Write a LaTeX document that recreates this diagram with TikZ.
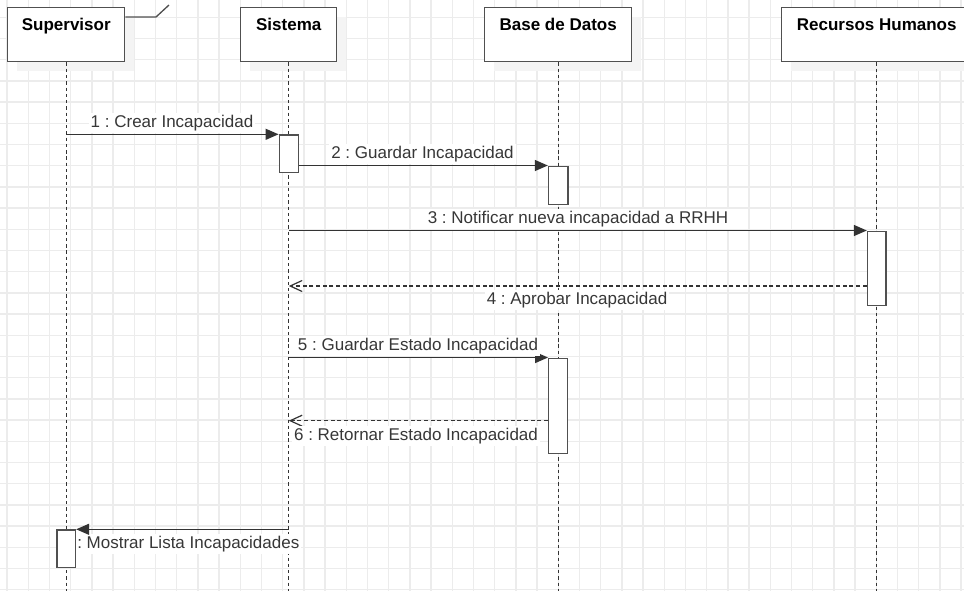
\documentclass[tikz,border=0pt]{standalone}
\usepackage{fontspec}
\setmainfont{Liberation Sans}
\usetikzlibrary{arrows.meta}
\definecolor{gridc}{RGB}{236,236,236}
\definecolor{linec}{RGB}{51,51,51}
\definecolor{boxc}{RGB}{80,80,80}
\definecolor{txtc}{RGB}{55,55,55}
\definecolor{shadowc}{RGB}{244,244,244}
\frenchspacing
\begin{document}
\begin{tikzpicture}[x=0.75pt,y=-0.75pt,
  font=\fontsize{12.75}{15}\selectfont,
  gridline/.style={draw=gridc, line width=1.1pt},
  headbox/.style={draw=boxc, fill=white, line width=1.1pt, inner sep=0pt,
    minimum height=54*0.75pt, anchor=north west},
  headtext/.style={anchor=base, inner sep=0pt, font=\fontsize{12.75}{15}\selectfont\bfseries, text=black},
  lifeline/.style={draw=linec, line width=0.9pt, dash pattern=on 2.5pt off 2.2pt},
  actbox/.style={draw=boxc, fill=white, line width=1pt, inner sep=0pt, anchor=north},
  msg/.style={draw=linec, line width=1pt, -{Triangle[length=9.75pt,width=8.25pt]}},
  reply/.style={draw=linec, line width=0.9pt, dash pattern=on 3pt off 2pt,
    -{Straight Barb[length=9pt,width=8.25pt,line width=0.9pt]}},
  msglabel/.style={anchor=base, fill=white, inner xsep=1.5pt, inner ysep=1.5pt, text=txtc},
]
\useasboundingbox (0,0) rectangle (964,590);

% background grid
\foreach \i in {0,...,45}
  \draw[gridline] ({7.1+21.2*\i},-2) -- ({7.1+21.2*\i},592);
\foreach \j in {0,...,28}
  \draw[gridline] (-2,{-3.9+21.2*\j}) -- (966,{-3.9+21.2*\j});

% soft shadows behind the participant boxes
\fill[shadowc] (17,17) rectangle (134,71);
\fill[shadowc] (250,17) rectangle (346,71);
\fill[shadowc] (494,17) rectangle (641,71);
\fill[shadowc] (791,17) rectangle (981,71);

% participants
\node[headbox, minimum width=117*0.75pt] (sup) at (7,7) {};
\node[headbox, minimum width=96*0.75pt]  (sis) at (240,7) {};
\node[headbox, minimum width=147*0.75pt] (bd)  at (484,7) {};
\node[headbox, minimum width=190*0.75pt] (rh)  at (781,7) {};

\node[headtext] (suptxt) at (sup.north |- 0,30) {Supervisor};
\node[headtext] (sistxt) at (sis.north |- 0,30) {Sistema};
\node[headtext] (bdtxt)  at (bd.north |- 0,30)  {Base de Datos};
\node[headtext] (rhtxt)  at (rh.north |- 0,30)  {Recursos Humanos};

% frame label corner
\draw[draw=boxc, line width=1pt] (sup.north east |- 0,17) -- (156,17) -- (169,5);

% lifelines
\coordinate (bottom) at (0,592);
\draw[lifeline] (sup.south) -- (sup.south |- bottom);
\draw[lifeline] (sis.south) -- (sis.south |- bottom);
\draw[lifeline] (bd.south)  -- (bd.south |- bottom);
\draw[lifeline] (rh.south)  -- (rh.south |- bottom);

% activation bars
\node[actbox, minimum width=19*0.75pt, minimum height=37.5*0.75pt] (a1) at (sis.south |- 0,134.3) {};
\node[actbox, minimum width=19.5*0.75pt, minimum height=38*0.75pt] (b1) at (bd.south |- 0,165.5) {};
\node[actbox, minimum width=18.5*0.75pt, minimum height=74*0.75pt] (r1) at (rh.south |- 0,230.5) {};
\node[actbox, minimum width=19*0.75pt, minimum height=95.5*0.75pt] (b2) at (bd.south |- 0,357.5) {};
\node[actbox, minimum width=18.5*0.75pt, minimum height=37.5*0.75pt] (s1) at (sup.south |- 0,529.3) {};

% message rows
\coordinate (y4) at (0,286);
\coordinate (y6) at (0,420.7);

% messages
\draw[msg] (sup.south |- a1.north west) -- (a1.north west);
\draw[msg] (a1.east |- b1.north west) -- (b1.north west);
\draw[msg] (sis.south |- r1.north west) -- (r1.north west);
\draw[reply] (r1.west |- y4) -- (sis.south |- y4);
\draw[msg] (sis.south |- b2.north west) -- (b2.north west);
\draw[reply] (b2.west |- y6) -- (sis.south |- y6);

% message labels
\node[msglabel] (l1) at (172,127.3) {1 : Crear Incapacidad};
\node[msglabel] (l2) at (422.5,158.7) {2 : Guardar Incapacidad};
\node[msglabel] (l3) at (578,223.3) {3 : Notificar nueva incapacidad a RRHH};
\node[msglabel] (l4) at (577,304.3) {4 : Aprobar Incapacidad};
\node[msglabel] (l5) at (418,350) {5 : Guardar Estado Incapacidad};
\node[msglabel] (l6) at (416,440) {6 : Retornar Estado Incapacidad};
\node[msglabel, anchor=base west] (l7) at (75,548.3) {: Mostrar Lista Incapacidades};

% last message, drawn over its label
\draw[msg] (sis.south |- s1.north east) -- (s1.north east);
\node[actbox, minimum width=18.5*0.75pt, minimum height=37.5*0.75pt] (s1b) at (s1.north) {};
\end{tikzpicture}
\end{document}
